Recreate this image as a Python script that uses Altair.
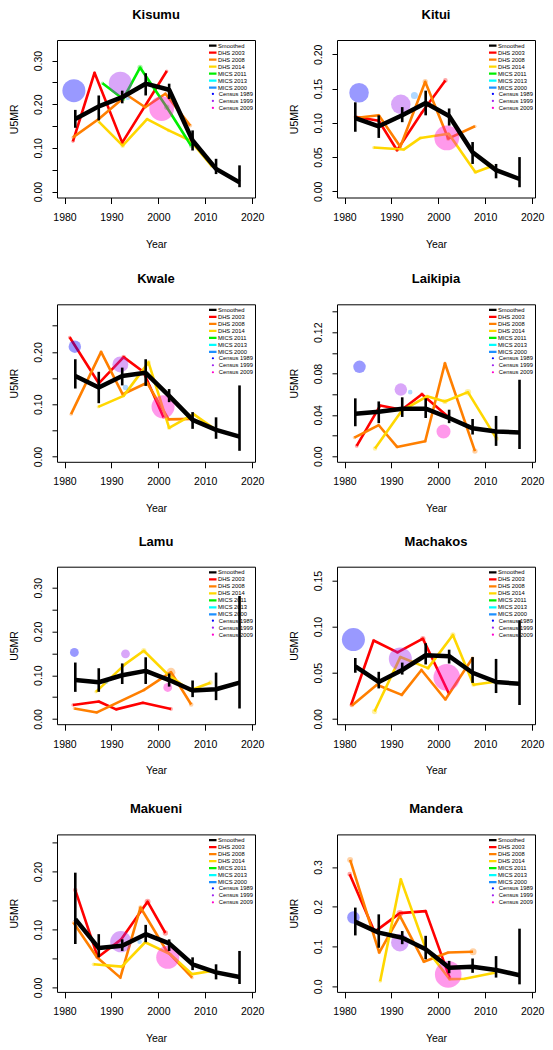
import altair as alt
import pandas as pd

FONT = "Liberation Sans"

SMOOTH_YEARS = [1982.3, 1987.3, 1992.3, 1997.3, 2002.3, 2007.3, 2012.3, 2017.3]
LINE_SERIES = ["Smoothed", "DHS 2003", "DHS 2008", "DHS 2014", "MICS 2011", "MICS 2013", "MICS 2000"]
LINE_COLORS = ["#000000", "#FF0000", "#FF7F00", "#FFD700", "#00EE00", "#00FFFF", "#1E90FF"]
CENSUS_SERIES = ["Census 1989", "Census 1999", "Census 2009"]
CENSUS_COLORS = ["#0000FF", "#A020F0", "#FF00CC"]
X_TICKS = [1980, 1990, 2000, 2010, 2020]

# ---------------- Kisumu ----------------
KISUMU_SMOOTH = [0.166, 0.195, 0.216, 0.247, 0.233, 0.117, 0.052, 0.021]
KISUMU_LOWER = [0.146, 0.163, 0.202, 0.220, 0.212, 0.094, 0.040, 0.010]
KISUMU_UPPER = [0.187, 0.220, 0.231, 0.271, 0.247, 0.140, 0.075, 0.060]
KISUMU_DHS2003 = [(1981.8, 0.115, 0.015), (1986.4, 0.272, 0.015), (1992.3, 0.112, 0.015), (2001.8, 0.276, 0.015)]
KISUMU_DHS2008 = [(1981.8, 0.124, 0.015), (1987.3, 0.166, 0.015), (1993.3, 0.221, 0.015), (1997.2, 0.193, 0.015), (2001.5, 0.224, 0.015), (2006.8, 0.151, 0.02)]
KISUMU_DHS2014 = [(1987.3, 0.160, 0.015), (1992.4, 0.105, 0.03), (1997.6, 0.166, 0.015), (2002.2, 0.140, 0.02), (2006.8, 0.117, 0.015), (2011.4, 0.058, 0.02)]
KISUMU_MICS2011 = [(1988.1, 0.248, 0.015), (1992.5, 0.212, 0.03), (1996.1, 0.284, 0.04), (2001.8, 0.193, 0.04), (2007.0, 0.105, 0.03)]
KISUMU_MICS2000 = [(1993.5, 0.215, 0.03)]
KISUMU_CENSUS = [("Census 1989", 1982.0, 0.231, 0.75), ("Census 1999", 1991.9, 0.248, 0.75), ("Census 2009", 2000.7, 0.190, 0.87)]

# ---------------- Kitui ----------------
KITUI_SMOOTH = [0.107, 0.095, 0.111, 0.129, 0.110, 0.057, 0.031, 0.018]
KITUI_LOWER = [0.087, 0.078, 0.101, 0.111, 0.096, 0.040, 0.019, 0.006]
KITUI_UPPER = [0.130, 0.111, 0.123, 0.147, 0.121, 0.072, 0.040, 0.050]
KITUI_DHS2003 = [(1982.3, 0.109, 0.015), (1987.3, 0.103, 0.015), (1991.2, 0.060, 0.015), (1996.5, 0.115, 0.015), (2001.5, 0.162, 0.03)]
KITUI_DHS2008 = [(1982.3, 0.107, 0.015), (1987.3, 0.111, 0.015), (1991.9, 0.065, 0.015), (1997.2, 0.160, 0.04), (2002.1, 0.077, 0.03), (2007.8, 0.095, 0.015)]
KITUI_DHS2014 = [(1986.2, 0.064, 0.015), (1992.6, 0.061, 0.015), (1996.2, 0.078, 0.015), (2002.2, 0.084, 0.015), (2007.9, 0.028, 0.02), (2011.5, 0.037, 0.015)]
KITUI_MICS2000 = [(1994.9, 0.140, 0.07)]
KITUI_CENSUS = [("Census 1989", 1983.1, 0.144, 0.54), ("Census 1999", 1992.0, 0.127, 0.54), ("Census 2009", 2001.8, 0.078, 0.87)]

# ---------------- Kwale ----------------
KWALE_SMOOTH = [0.154, 0.132, 0.154, 0.160, 0.116, 0.070, 0.051, 0.038]
KWALE_LOWER = [0.130, 0.102, 0.136, 0.135, 0.104, 0.053, 0.034, 0.011]
KWALE_UPPER = [0.186, 0.162, 0.170, 0.186, 0.129, 0.085, 0.075, 0.136]
KWALE_DHS2003 = [(1981.1, 0.228, 0.015), (1987.3, 0.140, 0.015), (1992.6, 0.190, 0.03), (1996.8, 0.162, 0.015), (2001.1, 0.075, 0.015)]
KWALE_DHS2008 = [(1981.4, 0.081, 0.015), (1987.8, 0.200, 0.015), (1992.4, 0.119, 0.015), (1997.6, 0.141, 0.015), (2002.2, 0.071, 0.015), (2007.1, 0.072, 0.015)]
KWALE_DHS2014 = [(1987.2, 0.095, 0.015), (1992.6, 0.116, 0.015), (1997.9, 0.180, 0.03), (2002.3, 0.055, 0.03), (2007.5, 0.081, 0.015), (2012.1, 0.052, 0.015)]
KWALE_MICS2000 = [(1993.0, 0.132, 0.04)]
KWALE_CENSUS = [("Census 1989", 1982.2, 0.210, 0.22), ("Census 1999", 1991.9, 0.176, 0.36), ("Census 2009", 2001.0, 0.095, 0.75)]

# ---------------- Laikipia ----------------
LAIKIPIA_SMOOTH = [0.041, 0.043, 0.046, 0.046, 0.037, 0.027, 0.024, 0.023]
LAIKIPIA_LOWER = [0.029, 0.032, 0.038, 0.037, 0.032, 0.021, 0.010, 0.007]
LAIKIPIA_UPPER = [0.056, 0.053, 0.057, 0.056, 0.045, 0.036, 0.039, 0.074]
LAIKIPIA_DHS2003 = [(1982.6, 0.010, 0.02), (1987.6, 0.049, 0.015), (1992.2, 0.045, 0.015), (1996.5, 0.060, 0.02), (2001.9, 0.039, 0.015)]
LAIKIPIA_DHS2008 = [(1982.1, 0.018, 0.015), (1987.3, 0.030, 0.015), (1991.2, 0.009, 0.015), (1997.2, 0.0145, 0.015), (2001.4, 0.090, 0.015), (2007.8, 0.005, 0.04)]
LAIKIPIA_DHS2014 = [(1986.5, 0.0075, 0.03), (1992.2, 0.044, 0.015), (1997.6, 0.058, 0.02), (2001.4, 0.053, 0.04), (2006.3, 0.062, 0.06), (2012.4, 0.017, 0.03)]
LAIKIPIA_MICS2000 = [(1994.0, 0.062, 0.03)]
LAIKIPIA_CENSUS = [("Census 1989", 1983.2, 0.0865, 0.22), ("Census 1999", 1992.0, 0.0645, 0.22), ("Census 2009", 2001.1, 0.024, 0.28)]

# ---------------- Lamu ----------------
LAMU_SMOOTH = [0.089, 0.084, 0.100, 0.110, 0.089, 0.065, 0.068, 0.083]
LAMU_LOWER = [0.062, 0.062, 0.080, 0.080, 0.074, 0.050, 0.043, 0.024]
LAMU_UPPER = [0.129, 0.116, 0.127, 0.141, 0.104, 0.088, 0.106, 0.281]
LAMU_DHS2003 = [(1981.8, 0.032, 0.015), (1987.3, 0.040, 0.015), (1991.0, 0.022, 0.015), (1996.7, 0.037, 0.015), (2002.7, 0.023, 0.02)]
LAMU_DHS2008 = [(1982.1, 0.024, 0.015), (1986.9, 0.015, 0.015), (1996.9, 0.066, 0.015), (2002.7, 0.107, 0.11), (2007.0, 0.033, 0.03)]
LAMU_DHS2014 = [(1986.7, 0.062, 0.015), (1993.0, 0.126, 0.015), (1996.9, 0.156, 0.04), (2001.9, 0.103, 0.015), (2006.7, 0.065, 0.015), (2011.1, 0.083, 0.03)]
LAMU_MICS2000 = [(1988.9, 0.085, 0.03)]
LAMU_CENSUS = [("Census 1989", 1982.1, 0.152, 0.11), ("Census 1999", 1993.0, 0.149, 0.11), ("Census 2009", 2002.0, 0.072, 0.11)]

# ---------------- Machakos ----------------
MACHAKOS_SMOOTH = [0.057, 0.040, 0.053, 0.069, 0.068, 0.050, 0.040, 0.038]
MACHAKOS_LOWER = [0.050, 0.033, 0.048, 0.059, 0.060, 0.039, 0.028, 0.015]
MACHAKOS_UPPER = [0.066, 0.051, 0.061, 0.082, 0.075, 0.067, 0.065, 0.107]
MACHAKOS_DHS2003 = [(1981.4, 0.015, 0.015), (1986.2, 0.085, 0.015), (1991.3, 0.072, 0.015), (1996.7, 0.087, 0.04), (2002.2, 0.028, 0.015)]
MACHAKOS_DHS2008 = [(1981.6, 0.0145, 0.02), (1986.9, 0.037, 0.015), (1992.2, 0.026, 0.015), (1996.4, 0.053, 0.015), (2001.5, 0.021, 0.015), (2007.3, 0.066, 0.015)]
MACHAKOS_DHS2014 = [(1986.4, 0.008, 0.04), (1991.9, 0.067, 0.015), (1997.8, 0.055, 0.02), (2003.1, 0.091, 0.04), (2007.5, 0.037, 0.03), (2011.7, 0.040, 0.015)]
MACHAKOS_CENSUS = [("Census 1989", 1981.9, 0.086, 0.75), ("Census 1999", 1991.9, 0.065, 0.75), ("Census 2009", 2001.8, 0.045, 1.0)]

# ---------------- Makueni ----------------
MAKUENI_SMOOTH = [0.118, 0.068, 0.072, 0.092, 0.076, 0.040, 0.026, 0.018]
MAKUENI_LOWER = [0.075, 0.052, 0.063, 0.078, 0.063, 0.030, 0.014, 0.006]
MAKUENI_UPPER = [0.198, 0.092, 0.083, 0.108, 0.083, 0.052, 0.040, 0.063]
MAKUENI_DHS2003 = [(1982.3, 0.168, 0.03), (1987.1, 0.052, 0.015), (1992.1, 0.083, 0.015), (1997.7, 0.148, 0.05), (2001.5, 0.094, 0.04)]
MAKUENI_DHS2008 = [(1981.9, 0.112, 0.015), (1986.9, 0.052, 0.015), (1991.9, 0.017, 0.015), (1996.2, 0.138, 0.03), (2001.7, 0.064, 0.015), (2007.2, 0.017, 0.015)]
MAKUENI_DHS2014 = [(1986.2, 0.040, 0.02), (1992.2, 0.036, 0.015), (1997.2, 0.078, 0.015), (2002.6, 0.057, 0.015), (2007.2, 0.023, 0.015), (2011.7, 0.029, 0.015)]
MAKUENI_MICS2000 = [(1996.0, 0.079, 0.03)]
MAKUENI_CENSUS = [("Census 1999", 1992.0, 0.079, 0.64), ("Census 2009", 2002.0, 0.052, 0.75)]

# ---------------- Mandera ----------------
MANDERA_SMOOTH = [0.162, 0.135, 0.122, 0.093, 0.047, 0.049, 0.041, 0.028]
MANDERA_LOWER = [0.128, 0.097, 0.106, 0.068, 0.033, 0.034, 0.022, 0.005]
MANDERA_UPPER = [0.198, 0.181, 0.139, 0.127, 0.064, 0.070, 0.076, 0.145]
MANDERA_DHS2003 = [(1981.1, 0.282, 0.03), (1986.4, 0.137, 0.015), (1991.8, 0.184, 0.06), (1997.3, 0.189, 0.015), (2002.4, 0.022, 0.015)]
MANDERA_DHS2008 = [(1981.2, 0.318, 0.05), (1987.4, 0.085, 0.015), (1991.8, 0.177, 0.015), (1996.9, 0.062, 0.015), (2002.1, 0.085, 0.015), (2007.4, 0.087, 0.07)]
MANDERA_DHS2014 = [(1987.6, 0.013, 0.015), (1992.0, 0.269, 0.015), (1997.2, 0.098, 0.015), (2002.4, 0.018, 0.015), (2005.6, 0.019, 0.015), (2012.0, 0.034, 0.015)]
MANDERA_CENSUS = [("Census 1989", 1981.9, 0.173, 0.22), ("Census 1999", 1991.8, 0.110, 0.44), ("Census 2009", 2002.1, 0.030, 1.0)]

# name, smooth, lower, upper, surveys, census, y-domain, tick step, n ticks, label step, format
PANELS = [
    ("Kisumu", KISUMU_SMOOTH, KISUMU_LOWER, KISUMU_UPPER,
     {"DHS 2003": KISUMU_DHS2003, "DHS 2008": KISUMU_DHS2008, "DHS 2014": KISUMU_DHS2014,
      "MICS 2011": KISUMU_MICS2011, "MICS 2000": KISUMU_MICS2000},
     KISUMU_CENSUS, [-0.0136, 0.347], 0.05, 6, 0.10, ".2f"),
    ("Kitui", KITUI_SMOOTH, KITUI_LOWER, KITUI_UPPER,
     {"DHS 2003": KITUI_DHS2003, "DHS 2008": KITUI_DHS2008, "DHS 2014": KITUI_DHS2014,
      "MICS 2000": KITUI_MICS2000},
     KITUI_CENSUS, [-0.009, 0.221], 0.05, 4, 0.05, ".2f"),
    ("Kwale", KWALE_SMOOTH, KWALE_LOWER, KWALE_UPPER,
     {"DHS 2003": KWALE_DHS2003, "DHS 2008": KWALE_DHS2008, "DHS 2014": KWALE_DHS2014,
      "MICS 2000": KWALE_MICS2000},
     KWALE_CENSUS, [-0.010, 0.291], 0.05, 5, 0.10, ".2f"),
    ("Laikipia", LAIKIPIA_SMOOTH, LAIKIPIA_LOWER, LAIKIPIA_UPPER,
     {"DHS 2003": LAIKIPIA_DHS2003, "DHS 2008": LAIKIPIA_DHS2008, "DHS 2014": LAIKIPIA_DHS2014,
      "MICS 2000": LAIKIPIA_MICS2000},
     LAIKIPIA_CENSUS, [-0.0054, 0.147], 0.02, 7, 0.04, ".2f"),
    ("Lamu", LAMU_SMOOTH, LAMU_LOWER, LAMU_UPPER,
     {"DHS 2003": LAMU_DHS2003, "DHS 2008": LAMU_DHS2008, "DHS 2014": LAMU_DHS2014,
      "MICS 2000": LAMU_MICS2000},
     LAMU_CENSUS, [-0.0119, 0.348], 0.05, 6, 0.10, ".2f"),
    ("Machakos", MACHAKOS_SMOOTH, MACHAKOS_LOWER, MACHAKOS_UPPER,
     {"DHS 2003": MACHAKOS_DHS2003, "DHS 2008": MACHAKOS_DHS2008, "DHS 2014": MACHAKOS_DHS2014},
     MACHAKOS_CENSUS, [-0.0058, 0.165], 0.05, 3, 0.05, ".2f"),
    ("Makueni", MAKUENI_SMOOTH, MAKUENI_LOWER, MAKUENI_UPPER,
     {"DHS 2003": MAKUENI_DHS2003, "DHS 2008": MAKUENI_DHS2008, "DHS 2014": MAKUENI_DHS2014,
      "MICS 2000": MAKUENI_MICS2000},
     MAKUENI_CENSUS, [-0.0076, 0.264], 0.05, 5, 0.10, ".2f"),
    ("Mandera", MANDERA_SMOOTH, MANDERA_LOWER, MANDERA_UPPER,
     {"DHS 2003": MANDERA_DHS2003, "DHS 2008": MANDERA_DHS2008, "DHS 2014": MANDERA_DHS2014},
     MANDERA_CENSUS, [-0.014, 0.382], 0.1, 3, 0.1, ".1f"),
]

ROW_H = 6.9  # legend row pitch


def panel(name, sm, lo, hi, surveys, census, ydom, tstep, nt, lstep, fmt):
    sm_df = pd.DataFrame({"year": SMOOTH_YEARS, "u5mr": sm, "lower": lo, "upper": hi})
    sv_df = pd.DataFrame(
        [{"series": s, "year": yr, "u5mr": v, "w": w}
         for s, pts in surveys.items() for (yr, v, w) in pts]
    )
    ce_df = pd.DataFrame(
        [{"series": s, "year": yr, "u5mr": v, "w": w} for (s, yr, v, w) in census]
    )
    ticks = [round(i * tstep, 4) for i in range(nt + 1)]
    label_expr = (
        f"abs(datum.value / {lstep} - round(datum.value / {lstep})) < 0.01 "
        f"? format(datum.value, '{fmt}') : ''"
    )
    xscale = alt.Scale(domain=[1978.4, 2020.6], nice=False, zero=False)
    yscale = alt.Scale(domain=ydom, nice=False, zero=False)
    xaxis = alt.Axis(values=X_TICKS, format="d", title="Year")
    yaxis = alt.Axis(values=ticks, labelExpr=label_expr, title="U5MR")

    def X():
        return alt.X("year:Q", scale=xscale, axis=xaxis)

    def Y(f):
        return alt.Y(f"{f}:Q", scale=yscale, axis=yaxis)

    size = alt.Size("w:Q", scale=alt.Scale(domain=[0, 1], range=[0, 707]), legend=None)

    leg_y0 = 2.2
    leg_lines = alt.Legend(
        title=None, orient="none", legendX=152, legendY=leg_y0,
        symbolType="M-3,0H3", symbolSize=9, symbolStrokeWidth=2.3,
        labelFontSize=5.8, labelFont=FONT, rowPadding=0, labelOffset=3,
        padding=0, clipHeight=ROW_H,
    )
    leg_census = alt.Legend(
        title=None, orient="none", legendX=153, legendY=leg_y0 + 7 * ROW_H,
        symbolType="circle", symbolSize=5, symbolOpacity=1, symbolStrokeWidth=0,
        labelFontSize=5.8, labelFont=FONT, rowPadding=0, labelOffset=3,
        padding=0, clipHeight=ROW_H,
    )

    lines = alt.Chart(sv_df).mark_line(strokeWidth=2.6, strokeJoin="round").encode(
        x=X(), y=Y("u5mr"),
        stroke=alt.Stroke("series:N", scale=alt.Scale(domain=LINE_SERIES, range=LINE_COLORS), legend=leg_lines),
    )
    pts = alt.Chart(sv_df).mark_circle(opacity=0.35).encode(
        x=X(), y=Y("u5mr"),
        color=alt.Color("series:N", scale=alt.Scale(domain=LINE_SERIES, range=LINE_COLORS), legend=None),
        size=size,
    )
    cen = alt.Chart(ce_df).mark_circle(opacity=0.4).encode(
        x=X(), y=Y("u5mr"),
        fill=alt.Fill("series:N", scale=alt.Scale(domain=CENSUS_SERIES, range=CENSUS_COLORS), legend=leg_census),
        size=size,
    )
    bars = alt.Chart(sm_df).mark_rule(color="black", strokeWidth=2.6).encode(
        x=X(), y=Y("lower"), y2="upper:Q"
    )
    smooth = alt.Chart(sm_df).mark_line(color="black", strokeWidth=4.5, strokeJoin="round").encode(
        x=X(), y=Y("u5mr")
    )
    return alt.layer(lines, pts, cen, bars, smooth).properties(
        width=198, height=157.5, title=alt.Title(name)
    )


IND = dict(stroke="independent", fill="independent", color="independent", size="independent")


def ind(c):
    return c.resolve_scale(**IND).resolve_legend(**IND)


charts = [panel(*p) for p in PANELS]
rows = [ind(alt.hconcat(charts[i], charts[i + 1], spacing=23)) for i in range(0, 8, 2)]
top = ind(alt.vconcat(rows[0], rows[1], spacing=22.3))
bottom = ind(alt.vconcat(rows[2], rows[3], spacing=25.7))
chart = (
    ind(alt.vconcat(top, bottom, spacing=19.7))
    .properties(padding={"left": 0, "top": 0, "right": 0, "bottom": 0})
    .configure_view(stroke="black", strokeWidth=1)
    .configure_axis(
        labelFont=FONT, titleFont=FONT, labelFontSize=10.5, titleFontSize=10.5,
        titleFontWeight="normal", tickColor="black", labelColor="black", titleColor="black",
        domain=False, grid=False, tickSize=5, tickWidth=1,
    )
    .configure_axisX(tickSize=6, labelPadding=9, titlePadding=16)
    .configure_axisY(labelAngle=270, labelAlign="center", labelBaseline="bottom",
                     labelPadding=9, titlePadding=14)
    .configure_title(font=FONT, fontSize=13, fontWeight="bold", anchor="middle",
                     offset=18, color="black")
)

chart.save("out.html", embed_options={"renderer": "svg", "actions": False})
